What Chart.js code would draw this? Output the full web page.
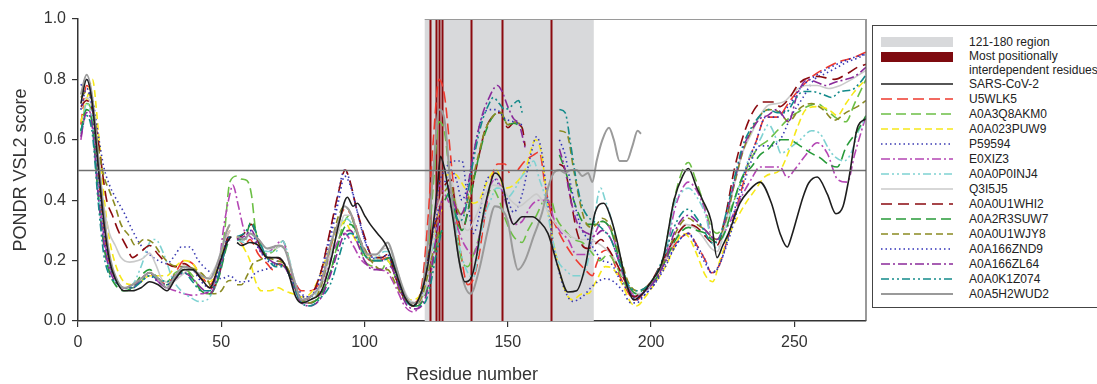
<!DOCTYPE html>
<html><head><meta charset="utf-8">
<script src="https://cdn.jsdelivr.net/npm/chart.js@4"></script>
<style>
body{margin:0;background:#fff;width:1097px;height:384px;overflow:hidden;position:relative;font-family:"Liberation Sans",Arial,sans-serif;}
#c{position:absolute;left:0;top:0;}
#legend{position:absolute;left:872px;top:25px;width:240px;height:283px;border:1px solid #444;box-sizing:border-box;background:#fff;}
.lt{position:absolute;left:96px;font-size:12px;color:#222;line-height:14px;white-space:nowrap;}
#legend svg{position:absolute;left:0;top:0;}
</style></head>
<body>
<canvas id="c" width="870" height="384"></canvas>
<div id="legend"></div>
<script>
// ---- data ----
const regionStart = 121, regionEnd = 180;
const keyResidues = [123, 125, 126, 127, 137, 148, 165];
const threshold = 0.5;
const xTicks = [0, 50, 100, 150, 200, 250];
const yTicks = [0, 0.2, 0.4, 0.6, 0.8, 1.0];

const sarsCov2 = [[1,.72],[3,.80],[5,.72],[7,.52],[9,.33],[11,.20],[13,.14],[16,.10],[19,.10],[22,.11],[25,.13],[28,.12],[31,.10],[34,.14],[37,.17],[40,.17],[43,.14],[46,.11],[49,.18],[52,.26],[53.5,.28],[54.5,null],[55.5,.26],[57,.25],[60,.26],[63,.25],[66,.21],[70,.21],[73,.17],[76,.08],[78,.06],[81,.07],[85,.10],[88,.19],[91,.32],[94,.41],[96,.38],[97.5,.39],[100,.35],[102,.32],[104.5,.29],[107,.26],[108.5,.23],[111,.16],[114,.08],[117,.05],[120,.10],[122,.18],[124,.32],[125.5,.45],[126.5,.545],[128,.50],[129.5,.42],[131,.33],[133,.20],[135,.13],[137.5,.15],[139,.21],[141,.33],[143,.42],[145.5,.49],[148,.46],[150,.37],[152,.32],[155,.345],[158.5,.345],[161,.33],[164,.29],[167.5,.18],[171,.096],[174,.10],[177,.18],[180.5,.36],[183.5,.39],[186,.34],[188,.27],[191.5,.12],[194,.07],[197,.09],[200,.13],[204,.20],[208,.40],[211,.48],[213,.505],[216,.44],[218,.40],[221,.33],[223,.21],[225,.25],[227,.29],[231,.39],[234,.43],[238,.46],[242,.39],[245,.29],[247.5,.245],[249,.28],[251,.345],[253,.41],[255,.457],[258,.477],[261.5,.42],[264.5,.355],[267,.38],[269,.47],[272,.64],[275,.67]];

const u5wlk5 = [[1,.65],[3,.78],[5,.72],[7,.50],[9,.30],[11,.19],[13,.14],[16,.11],[19,.12],[22,.14],[25,.16],[28,.14],[31,.12],[34,.16],[37,.20],[40,.19],[43,.15],[46,.12],[49,.18],[52,.28],[53,.30],[54.5,null],[55.5,.28],[58,.25],[60,.27],[63,.22],[66,.19],[68,.17],[70,.19],[72,.18],[75,.14],[78,.10],[81,.10],[85,.14],[88,.24],[91,.33],[93,.37],[96,.34],[99,.25],[102,.20],[105,.20],[108,.21],[111,.14],[114,.08],[117,.06],[120,.12],[122,.32],[124,.60],[126,.80],[128,.74],[130,.55],[132,.35],[134,.20],[136,.12],[138,.14],[140,.22],[142,.35],[144,.46],[146.5,.52],[149,.52],[150.5,.49],[152,null],[153.5,.50],[156,.53],[159,.55],[161,.56],[163,.45],[165.5,.345],[168,.29],[171,.24],[174,.20],[177,.17],[179.5,.15],[181,.19],[183,.23],[185,.235],[188,.17],[190,.13],[193,.08],[195,.07],[198,.10],[201,.13],[205,.20],[208,.25],[211,.28],[213,.29],[216,.25],[219,.20],[221,.16],[223,.17],[226,.25],[229,.35],[232,.45],[234,.53],[236.5,.59],[240,.675],[244,.675],[248.5,.73],[252,.77],[257,.815],[261.5,.84],[266,.86],[270,.87],[275,.89]];

const a0a3q8akm0 = [[1,.62],[3,.72],[5,.68],[7,.45],[9,.27],[11,.18],[13,.14],[16,.11],[19,.11],[22,.13],[25,.16],[28,.14],[31,.13],[34,.16],[37,.17],[40,.15],[43,.10],[46,.09],[49,.15],[51,.28],[53,.46],[55.5,.48],[57,.47],[59,.465],[60.5,.42],[62,.30],[65,.22],[68,.23],[70,.25],[71.5,.265],[73,.23],[76,.10],[78,.06],[81,.06],[85,.09],[88,.16],[91,.27],[93,.33],[95,.35],[97,.30],[100,.20],[103,.18],[106,.17],[108,.20],[111,.14],[114,.08],[117,.05],[120,.09],[122,.22],[124,.45],[126,.66],[128,.62],[130,.45],[132,.30],[134,.20],[136,.18],[138,.22],[140,.28],[142,.38],[144.5,.44],[147,.40],[149,.34],[152,.28],[155,.26],[157,.30],[160,.35],[163,.40],[165,.40],[167,.34],[170,.30],[173,.27],[176,.26],[179,.23],[182,.20],[185,.22],[188,.18],[191,.12],[194,.08],[197,.10],[200,.13],[204,.20],[208,.40],[211,.50],[213,.525],[215.5,.47],[218,.40],[221,.31],[223,.29],[226,.33],[229,.40],[233,.50],[237,.57],[241,.60],[244,.63],[248.5,.675],[251,.69],[254.5,.71],[258,.72],[261,.70],[265,.67],[268,.66],[271,.72],[275,.80]];

const a0a023puw9 = [[1,.66],[3,.73],[5,.80],[7,.64],[9,.42],[11,.27],[13,.19],[16,.13],[19,.12],[22,.13],[25,.15],[28,.15],[31,.15],[34,.18],[37,.20],[40,.19],[43,.15],[46,.13],[49,.19],[52,.30],[53,.32],[54.5,null],[55.5,.28],[58,.24],[60,.20],[62,.13],[64,.10],[67,.10],[70,.11],[72,.10],[75,.09],[78,.08],[81,.09],[84,.14],[87,.22],[89,.27],[91,.30],[93,.33],[95,.30],[98,.25],[101,.22],[104,.21],[107,.21],[110,.17],[113,.10],[116,.07],[119,.08],[121,.13],[123,.22],[125,.33],[127,.37],[127.5,null],[128,.48],[131,.49],[135,.44],[138,.39],[140,.40],[143,.465],[146,.50],[149,.44],[152,.45],[156,.50],[159.7,.60],[162,.54],[164,.37],[167,.21],[170,.10],[172.6,.07],[176,.09],[178,.09],[181,.135],[184,.18],[187,.17],[190,.12],[193,.06],[195,.05],[198,.08],[201,.12],[205,.18],[208,.24],[211,.29],[213,.28],[216,.22],[219,.15],[221.5,.13],[224,.20],[227,.28],[230,.34],[233,.39],[236,.43],[240,.48],[245,.50],[248,.56],[251,.64],[254,.70],[258,.71],[262,.70],[265,.68],[268,.72],[271,.76],[275,.80]];

const p59594 = [[1,.78],[3,.80],[5,.74],[7,.62],[9,.51],[11,.45],[13,.41],[16,.36],[19,.30],[22,.25],[25,.22],[28,.20],[31,.19],[34,.22],[36,.245],[39,.245],[42,.20],[45,.17],[48,.15],[50,.14],[53,.15],[56,.13],[59,.13],[62,.16],[65,.17],[68,.18],[70,.20],[72,.19],[75,.14],[78,.09],[81,.08],[84,.14],[87,.25],[90,.38],[93,.50],[95,.46],[97,.38],[100,.27],[103,.21],[106,.20],[109,.21],[112,.12],[115,.07],[118,.06],[121,.12],[124,.30],[126,.45],[128,.50],[131,.53],[134,.53],[136,.40],[138,.29],[140,.35],[142,.45],[144,.48],[147,.45],[150,.40],[152,.36],[155,.42],[158,.55],[160,.61],[162,.55],[164,.38],[167,.20],[170,.10],[172.6,.065],[176,.08],[180,.12],[184,.14],[187,.13],[190,.10],[193,.06],[195,.06],[198,.09],[201,.12],[205,.18],[208,.24],[211,.28],[213,.29],[216,.25],[219,.20],[221,.16],[223,.17],[226,.24],[229,.33],[232,.44],[235,.53],[238,.58],[242,.58],[245,.60],[249,.68],[253,.74],[257,.80],[261,.82],[265,.84],[269,.86],[272,.87],[275,.885]];

const e0xiz3 = [[1,.60],[3,.70],[5,.66],[7,.45],[9,.28],[11,.18],[13,.14],[16,.11],[19,.12],[22,.14],[25,.16],[28,.13],[31,.11],[34,.10],[37,.09],[40,.085],[43,.09],[46,.10],[49,.18],[51,.32],[53,.42],[54,.45],[56,.38],[58,.30],[60,.28],[62,.26],[65,.22],[68,.24],[70,.26],[71.5,.265],[73,.22],[76,.10],[78,.06],[81,.06],[85,.10],[88,.20],[91,.27],[93,.29],[96,.25],[99,.20],[102,.18],[105,.17],[108,.16],[111,.11],[114,.05],[117,.03],[120,.07],[122,.15],[124,.30],[126,.45],[128,.42],[130,.38],[132,.32],[135,.25],[138,.22],[140,.28],[142,.37],[144,.45],[146,.47],[148,.43],[150,.37],[152,.32],[155,.33],[158,.38],[161,.40],[164,.40],[166,.34],[168,.30],[171,.27],[174,.22],[177,.22],[180,.28],[183,.33],[186,.30],[189,.20],[192,.12],[195,.08],[198,.10],[201,.13],[205,.21],[208,.36],[211,.44],[213,.46],[216,.43],[219,.36],[221,.28],[223,.26],[226,.30],[229,.36],[232,.42],[235,.47],[238,.51],[241,.51],[245,.51],[247.5,.475],[250,.50],[254,.55],[258,.59],[261.5,.555],[265,.47],[268.5,.46],[271,.55],[275,.68]];

const a0a0p0inj4 = [[1,.62],[3,.72],[5,.66],[7,.45],[9,.26],[11,.17],[13,.13],[16,.11],[19,.12],[22,.18],[25,.26],[27,.27],[30,.22],[33,.14],[36,.10],[39,.08],[42,.065],[45,.07],[48,.12],[50,.18],[52,.27],[53,.28],[54.5,null],[55.5,.27],[58,.26],[60,.29],[63,.26],[66,.23],[69,.23],[71.5,.265],[73,.23],[76,.12],[78,.06],[81,.07],[85,.12],[88,.22],[91,.30],[93,.34],[95,.33],[98,.26],[101,.21],[104,.21],[107,.23],[109,.23],[112,.14],[115,.07],[118,.06],[121,.10],[123,.20],[125,.30],[127,.33],[127.5,null],[128,.45],[130,.42],[133,.25],[136,.16],[138,.145],[140,.25],[142,.35],[144,.40],[146,.44],[148,.44],[150,.41],[152,.43],[155,.48],[157,.50],[159,.53],[161,.47],[163,.41],[165,.30],[167.5,.20],[170,.17],[173,.15],[176,.15],[178,.20],[180,.33],[182.4,.44],[184,.40],[186,.34],[189,.22],[192,.12],[195,.09],[198,.10],[201,.13],[205,.22],[208,.38],[211,.43],[213,.44],[216,.41],[219,.35],[221,.27],[223,.24],[226,.30],[229,.40],[232,.48],[235,.56],[238,.60],[241,.65],[243,.62],[245.3,.555],[248,.57],[252,.60],[256,.63],[259,.62],[262,.57],[264,.545],[267.3,.53],[270,.56],[272,.62],[275,.675]];

const q3i5j5 = [[1,.70],[3,.74],[5,.70],[7,.55],[9,.38],[11,.29],[13,.25],[15,.21],[18,.195],[21,.20],[23,.21],[25,.225],[27,.19],[30,.13],[33,.13],[36,.15],[39,.17],[42,.16],[45,.14],[48,.18],[51,.26],[53,.30],[54.5,null],[55.5,.28],[58,.27],[60,.29],[63,.27],[66,.24],[69,.24],[71,.25],[73,.22],[76,.12],[78,.07],[81,.07],[85,.12],[88,.22],[91,.30],[93,.35],[95,.35],[98,.28],[101,.22],[104,.22],[107,.24],[109,.24],[112,.15],[115,.08],[118,.06],[121,.10],[123,.22],[125,.35],[127,.42],[127.5,null],[128,.50],[130,.48],[133,.35],[136,.30],[139,.35],[142,.42],[145,.45],[148,.44],[151,.40],[154,.38],[157,.40],[160,.42],[163,.38],[166,.33],[169,.30],[172,.28],[175,.27],[178,.27],[181,.26],[184,.24],[187,.21],[190,.15],[193,.10],[196,.09],[199,.11],[202,.15],[206,.22],[209,.28],[212,.32],[215,.31],[218,.28],[221,.24],[223,.23],[226,.32],[229,.45],[232,.56],[235,.62],[238,.68],[241,.715],[244,.72],[247,.73],[250,.76],[254,.78],[258,.78],[262,.77],[266,.78],[270,.80],[275,.83]];

const a0a0u1whi2 = [[1,.71],[3,.73],[5,.70],[7,.60],[9,.46],[10,.40],[12,.35],[14,.30],[17,.245],[19,.21],[22,.23],[25,.25],[28,.22],[31,.19],[34,.18],[37,.19],[40,.17],[43,.14],[46,.11],[48,.12],[50,.18],[52,.27],[53,.28],[54.5,null],[55.5,.27],[58,.29],[60.5,.32],[63,.26],[66,.21],[69,.21],[72,.19],[75,.13],[78,.07],[81,.08],[85,.17],[88,.30],[91,.43],[93.3,.50],[95,.46],[97,.38],[100,.28],[103,.21],[106,.21],[108,.22],[111,.14],[114,.07],[117,.05],[120,.10],[122,.20],[124,.30],[126,.36],[127,null],[128,.45],[130,.47],[132,.37],[134,.30],[136,.36],[138,.46],[140,.55],[142,.63],[145,.68],[147.5,.69],[150,.64],[152,.655],[155,.64],[156,.58],[160,null],[168,.52],[170,.50],[172,.40],[174,.30],[176,.25],[178,.24],[180,.25],[182.5,.27],[185,.24],[188,.19],[191,.13],[194,.08],[197,.10],[200,.13],[204,.20],[208,.27],[211,.31],[213,.32],[216,.31],[219,.28],[221,.26],[223,.25],[226,.35],[229,.50],[232.4,.62],[236,.70],[239,.725],[243,.725],[245,.71],[247.6,.73],[252,.79],[258,.81],[264,.80],[268.6,.82],[272,.84],[275,.85]];

const a0a2r3suw7 = [[1,.63],[3,.70],[5,.65],[7,.42],[9,.25],[11,.16],[13,.12],[16,.10],[19,.11],[22,.15],[25,.17],[28,.14],[31,.12],[34,.14],[37,.17],[40,.14],[43,.10],[46,.09],[49,.14],[52,.25],[53,.27],[54.5,null],[55.5,.27],[58,.27],[60.5,.33],[63,.27],[66,.21],[69,.19],[72,.18],[75,.13],[78,.07],[81,.06],[85,.09],[88,.16],[91,.26],[93,.31],[95,.32],[97,.30],[100,.22],[103,.20],[106,.20],[109,.21],[112,.14],[115,.07],[118,.05],[121,.08],[123,.15],[125,.25],[127,.30],[127.5,null],[128,.40],[130,.43],[132,.34],[134,.30],[136,.36],[138,.46],[140,.55],[142,.62],[145,.68],[147.5,.69],[150,.65],[152,.655],[155,.64],[160,null],[168,.55],[170,.50],[173,.40],[176,.33],[178,.32],[180,.32],[183,.33],[186,.30],[189,.20],[192,.12],[195,.09],[198,.11],[201,.13],[205,.20],[208,.26],[211,.30],[213,.31],[216,.30],[219,.29],[221,.27],[223,.26],[226,.30],[229,.40],[232,.48],[235,.51],[238,.55],[241,.57],[244,.60],[248,.60],[252,.58],[256,.555],[259,.54],[261.7,.52],[265,.51],[268,.575],[272,.63],[275,.68]];

const a0a0u1wjy8 = [[1,.74],[3,.76],[5,.72],[7,.58],[9,.48],[11,.43],[13,.38],[15,.32],[18,.28],[20,.25],[23,.27],[26,.26],[29,.22],[32,.19],[35,.18],[38,.18],[41,.17],[44,.15],[46,.12],[47,.09],[50,.10],[52,.13],[53.5,.135],[54.5,null],[55.5,.12],[57,.12],[59,.15],[61,.19],[63,.20],[66,.21],[69,.20],[72,.19],[75,.14],[78,.07],[81,.06],[85,.12],[88,.24],[91,.35],[93,.38],[95,.36],[97,.30],[100,.24],[103,.19],[106,.17],[108,.17],[111,.12],[114,.07],[117,.05],[120,.08],[122,.15],[124,.23],[126,.30],[127,null],[128,.43],[130,.45],[132,.38],[134,.35],[136,.40],[138,.48],[140,.56],[142,.63],[145,.68],[147.5,.69],[150,.65],[152,.66],[155,.65],[160,null],[168,.63],[170.6,.62],[173,.50],[175,.40],[177,.33],[179,.31],[181,.32],[183,.34],[186,.31],[189,.22],[192,.13],[195,.10],[198,.11],[201,.14],[205,.21],[208,.28],[211,.33],[213,.34],[216,.32],[219,.30],[221,.28],[223,.27],[226,.33],[229,.45],[232,.56],[235,.63],[238,.68],[241,.70],[245,.69],[248,.66],[252,.705],[256,.72],[260,.70],[264,.665],[268,.69],[272,.71],[275,.73]];

const a0a166znd9 = [[1,.70],[3,.77],[5,.70],[7,.50],[9,.30],[11,.19],[13,.14],[16,.11],[19,.11],[22,.13],[25,.15],[28,.13],[31,.12],[34,.15],[37,.18],[40,.17],[43,.13],[46,.11],[49,.17],[52,.27],[53,.28],[54.5,null],[55.5,.27],[58,.27],[60,.30],[63,.24],[66,.20],[69,.19],[72,.18],[75,.13],[78,.08],[81,.08],[85,.15],[88,.27],[91,.40],[93,.48],[95,.45],[97,.38],[100,.27],[103,.21],[106,.21],[108,.22],[111,.14],[114,.08],[117,.05],[120,.10],[122,.20],[124,.30],[126,.38],[127,null],[128,.46],[130,.50],[132,.47],[134,.40],[136,.45],[138,.55],[141,.675],[144,.70],[146,.70],[149,.67],[152,.66],[155,.65],[160,null],[168,.60],[170,.55],[172,.45],[174,.36],[176,.30],[178,.27],[180,.24],[183,.20],[186,.19],[189,.14],[192,.10],[195,.07],[198,.09],[201,.12],[205,.19],[208,.24],[211,.28],[213,.29],[216,.24],[219,.19],[221,.16],[224,.19],[227,.28],[230,.40],[233,.50],[236.5,.59],[240,.675],[244,.675],[248.5,.72],[252,.77],[257,.81],[261.5,.835],[266,.855],[270,.87],[275,.885]];

const a0a166zl64 = [[1,.61],[3,.69],[5,.64],[7,.42],[9,.26],[11,.17],[13,.13],[16,.11],[19,.11],[22,.14],[25,.16],[28,.13],[31,.11],[34,.14],[37,.16],[40,.14],[43,.11],[46,.09],[49,.15],[52,.26],[53,.27],[54.5,null],[55.5,.27],[58,.28],[60.5,.30],[63,.25],[66,.21],[69,.19],[72,.18],[75,.12],[78,.06],[81,.05],[85,.08],[88,.15],[91,.24],[93,.29],[95,.30],[97,.27],[100,.20],[103,.17],[106,.17],[109,.18],[112,.11],[115,.05],[118,.04],[121,.07],[123,.15],[125,.28],[127,.40],[128,null],[129,.45],[131,.40],[133,.35],[135,.38],[137,.50],[139,.60],[141,.68],[143,.73],[146.4,.78],[148,.76],[150,.71],[152,.67],[154,.65],[156,.575],[160,null],[168,.57],[170,.50],[172,.40],[174,.33],[176,.30],[178,.29],[180,.28],[183,.30],[186,.27],[189,.19],[192,.11],[195,.08],[198,.10],[201,.13],[205,.20],[208,.29],[211,.34],[213,.35],[216,.33],[219,.30],[221,.28],[223,.27],[226,.34],[229,.46],[232,.57],[235,.63],[238,.67],[240.6,.68],[244,.70],[248,.66],[251,.75],[254.7,.80],[258,.79],[261,.78],[264,.79],[268,.80],[271,.81],[275,.84]];

const a0a0k1z074 = [[1,.63],[3,.68],[5,.62],[7,.40],[9,.22],[11,.15],[13,.13],[16,.11],[19,.11],[22,.13],[25,.15],[28,.14],[31,.13],[34,.15],[37,.16],[40,.13],[43,.10],[46,.10],[49,.15],[52,.26],[53,.28],[54.5,null],[55.5,.28],[58,.29],[60.5,.32],[63,.27],[66,.21],[69,.18],[72,.18],[75,.12],[78,.06],[81,.05],[85,.08],[88,.12],[91,.21],[93,.27],[95,.29],[97,.28],[100,.22],[103,.20],[106,.20],[109,.21],[112,.13],[115,.06],[118,.05],[121,.06],[123,.12],[125,.22],[127,.30],[128,null],[129,.42],[131,.38],[133,.33],[135,.36],[137,.48],[139,.58],[141,.66],[143,.71],[145,.74],[147,.72],[149,.70],[151,.71],[153.8,.73],[155,.69],[160,null],[168,.70],[170,.69],[172,.58],[174,.46],[176,.38],[178,.345],[180,.33],[183.5,.30],[186,.27],[189,.19],[192,.12],[195,.10],[198,.11],[201,.14],[205,.23],[208,.31],[211,.36],[213,.37],[216,.34],[219,.29],[221,.26],[223,.26],[226,.35],[229,.47],[232,.58],[235,.64],[238,.68],[241,.70],[244,.69],[247,.69],[250,.73],[253,.76],[256,.76],[260,.75],[263,.74],[266,.76],[270,.765],[273,.79],[275,.815]];

const a0a5h2wud2 = [[1,.75],[3,.815],[5,.74],[7,.55],[9,.36],[11,.22],[13,.15],[16,.11],[19,.12],[22,.14],[25,.16],[28,.14],[31,.11],[34,.15],[37,.18],[40,.17],[43,.15],[46,.14],[49,.20],[52,.30],[53,.32],[54.5,null],[55.5,.28],[58,.27],[60,.29],[63,.27],[66,.24],[70,.25],[72,.24],[75,.15],[78,.07],[81,.08],[85,.13],[88,.25],[91,.33],[93,.38],[95,.36],[98,.28],[101,.22],[104,.22],[107,.25],[108,.26],[111,.18],[114,.09],[116,.06],[118,.06],[120,.10],[122,.25],[124,.50],[126,.70],[128,.66],[130,.45],[132,.27],[134,.15],[137,.09],[140,.17],[143,.30],[145.5,.38],[148,.37],[150,.33],[152,.22],[153.5,.17],[156,.20],[159,.28],[162,.36],[164,.44],[166,.49],[168,.50],[170,.49],[172,.50],[174,.50],[176,.48],[178,.49],[179.5,.46],[181,.53],[183,.60],[185.3,.64],[187,.60],[189,.53],[191.5,.53],[193.5,.58],[195.3,.63],[196.5,.62]];

const seriesNames = ["SARS-CoV-2","U5WLK5","A0A3Q8AKM0","A0A023PUW9","P59594","E0XIZ3","A0A0P0INJ4","Q3I5J5","A0A0U1WHI2","A0A2R3SUW7","A0A0U1WJY8","A0A166ZND9","A0A166ZL64","A0A0K1Z074","A0A5H2WUD2"];
const seriesData = [sarsCov2,u5wlk5,a0a3q8akm0,a0a023puw9,p59594,e0xiz3,a0a0p0inj4,q3i5j5,a0a0u1whi2,a0a2r3suw7,a0a0u1wjy8,a0a166znd9,a0a166zl64,a0a0k1z074,a0a5h2wud2];

// ---- styles ----
const styles = [
  {c:'#1e1e1e', d:[], w:1.6},
  {c:'#ee3a2e', d:[11,5], w:1.6},
  {c:'#6cbf45', d:[10,5], w:1.6},
  {c:'#f6e81a', d:[7,4], w:1.6},
  {c:'#3a3ab2', d:[1.5,3], w:1.6},
  {c:'#b446b4', d:[9,3,2,3], w:1.6},
  {c:'#7fd2d2', d:[8,3,2,3,2,3], w:1.6},
  {c:'#cacaca', d:[], w:1.6},
  {c:'#8b0a0f', d:[11,6], w:1.6},
  {c:'#279a38', d:[10,5], w:1.6},
  {c:'#8a8a22', d:[7,4], w:1.6},
  {c:'#3030b8', d:[1.5,3], w:1.6},
  {c:'#8a2a9a', d:[9,3,2,3], w:1.6},
  {c:'#138a8a', d:[8,3,2,3,2,3], w:1.6},
  {c:'#9a9a9a', d:[], w:2}
];

const datasets = seriesData.map((arr, i) => ({
  label: seriesNames[i],
  data: arr.map(p => ({x: p[0], y: p[1]})),
  borderColor: styles[i].c,
  borderDash: styles[i].d,
  borderWidth: styles[i].w,
  pointRadius: 0,
  fill: false,
  spanGaps: false,
  cubicInterpolationMode: 'monotone',
  order: i === 0 ? 0 : 15 - i
}));

const decor = {
  id: 'decor',
  beforeDatasetsDraw(chart) {
    const {ctx, scales: {x, y}} = chart;
    const top = y.getPixelForValue(1), bot = y.getPixelForValue(0);
    ctx.save();
    const x0 = x.getPixelForValue(regionStart), x1 = x.getPixelForValue(regionEnd);
    ctx.fillStyle = '#d8d9db';
    ctx.fillRect(x0, top, x1 - x0, bot - top);
    ctx.strokeStyle = '#8b0a0f';
    ctx.lineWidth = 2;
    keyResidues.forEach(r => {
      const px = Math.round(x.getPixelForValue(r)) + 0.5;
      ctx.beginPath(); ctx.moveTo(px, top); ctx.lineTo(px, bot); ctx.stroke();
    });
    ctx.restore();
  },
  afterDatasetsDraw(chart) {
    const {ctx, chartArea: a, scales: {x, y}} = chart;
    ctx.save();
    const ty = Math.round(y.getPixelForValue(threshold)) + 0.5;
    ctx.strokeStyle = '#707070'; ctx.lineWidth = 1.3;
    ctx.beginPath(); ctx.moveTo(a.left, ty); ctx.lineTo(a.right, ty); ctx.stroke();
    ctx.strokeStyle = '#555'; ctx.lineWidth = 1.2;
    ctx.beginPath(); ctx.moveTo(a.right, a.top); ctx.lineTo(a.right, a.bottom); ctx.stroke();
    ctx.strokeStyle = '#9a9a9a'; ctx.lineWidth = 1;
    ctx.beginPath(); ctx.moveTo(x.getPixelForValue(regionStart), a.top + 0.5); ctx.lineTo(a.right, a.top + 0.5); ctx.stroke();
    ctx.restore();
  }
};

const tickFont = {family: '"Liberation Sans", Arial, sans-serif', size: 16};
new Chart(document.getElementById('c'), {
  type: 'line',
  data: {datasets},
  options: {
    responsive: false,
    animation: false,
    events: [],
    layout: {padding: {left: 0, right: 4, top: 19, bottom: 0}},
    plugins: {legend: {display: false}, tooltip: {enabled: false}},
    scales: {
      x: {
        type: 'linear', min: 0, max: 275,
        afterFit(s) { s.height = 63; },
        afterBuildTicks(s) { s.ticks = xTicks.map(v => ({value: v})); },
        ticks: {font: tickFont, color: '#333', padding: 6, maxRotation: 0},
        grid: {display: true, drawOnChartArea: false, drawTicks: true, tickLength: 6, color: '#333', lineWidth: 1.2},
        border: {display: true, color: '#333', width: 1.5},
        title: {display: true, text: 'Residue number', font: {family: '"Liberation Sans", Arial, sans-serif', size: 18, lineHeight: 1}, color: '#333', padding: {top: 0, bottom: 0}}
      },
      y: {
        type: 'linear', min: 0, max: 1,
        afterFit(s) { s.width = 78; },
        afterBuildTicks(s) { s.ticks = yTicks.map(v => ({value: v})); },
        ticks: {font: tickFont, color: '#333', padding: 6, callback: v => Number(v).toFixed(1)},
        grid: {display: true, drawOnChartArea: false, drawTicks: true, tickLength: 6, color: '#333', lineWidth: 1.2},
        border: {display: true, color: '#333', width: 1.5},
        title: {display: true, text: 'PONDR VSL2 score', font: {family: '"Liberation Sans", Arial, sans-serif', size: 18}, color: '#333', padding: {top: 10, bottom: 0}}
      }
    }
  },
  plugins: [decor]
});

// ---- legend (HTML) ----
const legend = document.getElementById('legend');
const svgNS = 'http://www.w3.org/2000/svg';
const svg = document.createElementNS(svgNS, 'svg');
svg.setAttribute('width', '240'); svg.setAttribute('height', '283');
legend.appendChild(svg);
function addText(txt, cy) {
  const d = document.createElement('div');
  d.className = 'lt'; d.textContent = txt; d.style.top = (cy - 7) + 'px';
  legend.appendChild(d);
}
function addRect(cy, color) {
  const r = document.createElementNS(svgNS, 'rect');
  r.setAttribute('x', 8); r.setAttribute('y', cy - 5); r.setAttribute('width', 72); r.setAttribute('height', 10);
  r.setAttribute('fill', color); svg.appendChild(r);
}
addRect(16, '#d8d9db'); addText('121-180 region', 16);
addRect(31, '#7e0a0f'); addText('Most positionally', 30); addText('interdependent residues', 44);
seriesNames.forEach((n, i) => {
  const cy = 58 + i * 15;
  const l = document.createElementNS(svgNS, 'line');
  l.setAttribute('x1', 8); l.setAttribute('x2', 80); l.setAttribute('y1', cy); l.setAttribute('y2', cy);
  l.setAttribute('stroke', styles[i].c); l.setAttribute('stroke-width', styles[i].w);
  if (styles[i].d.length) l.setAttribute('stroke-dasharray', styles[i].d.join(' '));
  svg.appendChild(l);
  addText(n, cy);
});
</script>
</body></html>
